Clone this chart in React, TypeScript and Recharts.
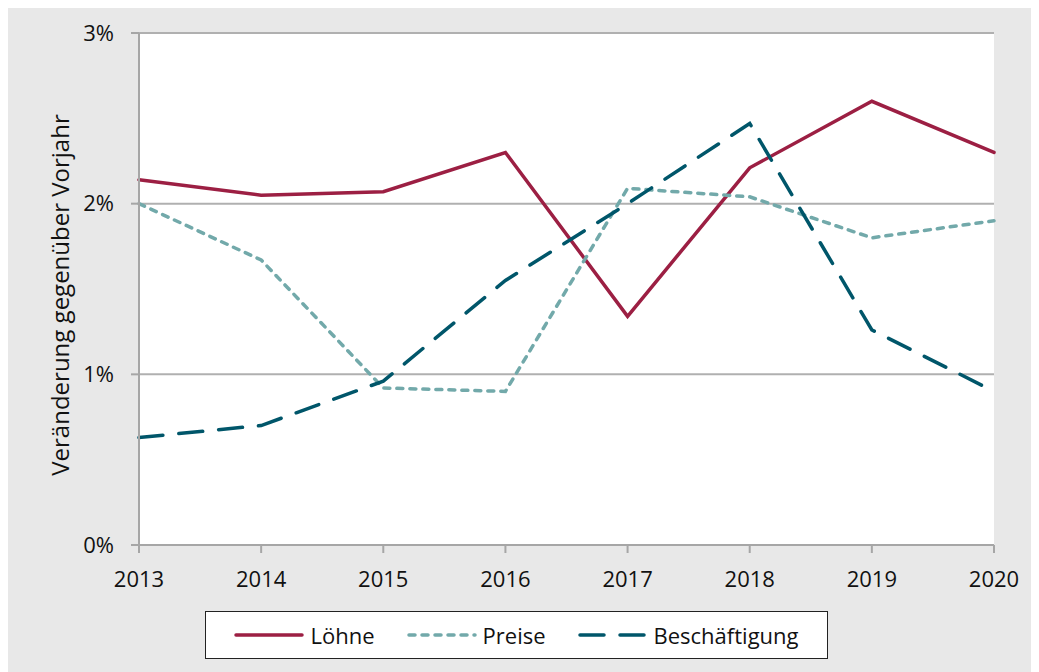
import { CartesianGrid, Legend, Line, LineChart, XAxis, YAxis } from "recharts";

const years = ["2013", "2014", "2015", "2016", "2017", "2018", "2019", "2020"];
const loehne = [2.14, 2.05, 2.07, 2.3, 1.34, 2.21, 2.6, 2.3];
const preise = [2.0, 1.67, 0.92, 0.9, 2.09, 2.04, 1.8, 1.9];
const beschaeftigung = [0.63, 0.7, 0.96, 1.55, 2.0, 2.47, 1.26, 0.9];
const yTicks = [0, 1, 2, 3];

const series = [
  { key: "loehne", name: "Löhne", color: "#9c1f43", dash: undefined },
  { key: "preise", name: "Preise", color: "#72a9aa", dash: "6 7" },
  { key: "beschaeftigung", name: "Beschäftigung", color: "#00566a", dash: "24 16" },
];

const data = years.map((year, i) => ({
  year,
  loehne: loehne[i],
  preise: preise[i],
  beschaeftigung: beschaeftigung[i],
}));

const font = "'Open Sans', sans-serif";

function LegendBox() {
  return (
    <div
      style={{
        boxSizing: "border-box",
        width: 623,
        height: 48,
        border: "1.5px solid #222",
        background: "#fff",
        display: "flex",
        alignItems: "center",
        justifyContent: "center",
        gap: 32,
        fontFamily: font,
        fontSize: 22,
        color: "#111",
      }}
    >
      {series.map((s) => (
        <div key={s.key} style={{ display: "flex", alignItems: "center", gap: 6 }}>
          <svg width={70} height={10}>
            <line x1={2} y1={5} x2={68} y2={5} stroke={s.color} strokeWidth={3.5} strokeDasharray={s.dash} strokeLinecap="round" />
          </svg>
          <span>{s.name}</span>
        </div>
      ))}
    </div>
  );
}

function YLabel(props: any) {
  const { x, y, height } = props.viewBox;
  const cx = x + 51;
  const cy = y + height / 2 + 6;
  return (
    <text x={cx} y={cy} transform={`rotate(-90, ${cx}, ${cy})`} textAnchor="middle" dominantBaseline="central" fontFamily={font} fontSize={24} fill="#111">
      Veränderung gegenüber Vorjahr
    </text>
  );
}

export default function App() {
  return (
    <div style={{ width: 1031, height: 668, marginTop: -4, background: "#e8e8e8", fontFamily: font }}>
      <LineChart width={1031} height={668} data={data} margin={{ top: 29, right: 45, left: 0, bottom: 0 }}>
        <CartesianGrid vertical={false} stroke="#b0b0b0" strokeWidth={2} fill="#fff" />
        <XAxis
          dataKey="year"
          height={127}
          stroke="#a6a6a6"
          strokeWidth={2}
          tickSize={8}
          tickMargin={18}
          tick={{ fill: "#111", fontSize: 22, fontFamily: font }}
          interval={0}
        />
        <YAxis
          width={131}
          domain={[0, 3]}
          ticks={yTicks}
          tickFormatter={(v) => `${v}%`}
          stroke="#a6a6a6"
          strokeWidth={2}
          tickSize={8}
          tickMargin={17}
          tick={{ fill: "#111", fontSize: 22, fontFamily: font }}
          label={<YLabel />}
        />
        <Legend verticalAlign="middle" align="center" wrapperStyle={{ left: 197, top: 607, width: 623, height: 48 }} content={() => <LegendBox />} />
        {series.map((s) => (
          <Line
            key={s.key}
            type="linear"
            dataKey={s.key}
            name={s.name}
            stroke={s.color}
            strokeWidth={3.5}
            strokeDasharray={s.dash}
            strokeLinecap="round"
            dot={false}
            activeDot={false}
            isAnimationActive={false}
          />
        ))}
      </LineChart>
    </div>
  );
}
